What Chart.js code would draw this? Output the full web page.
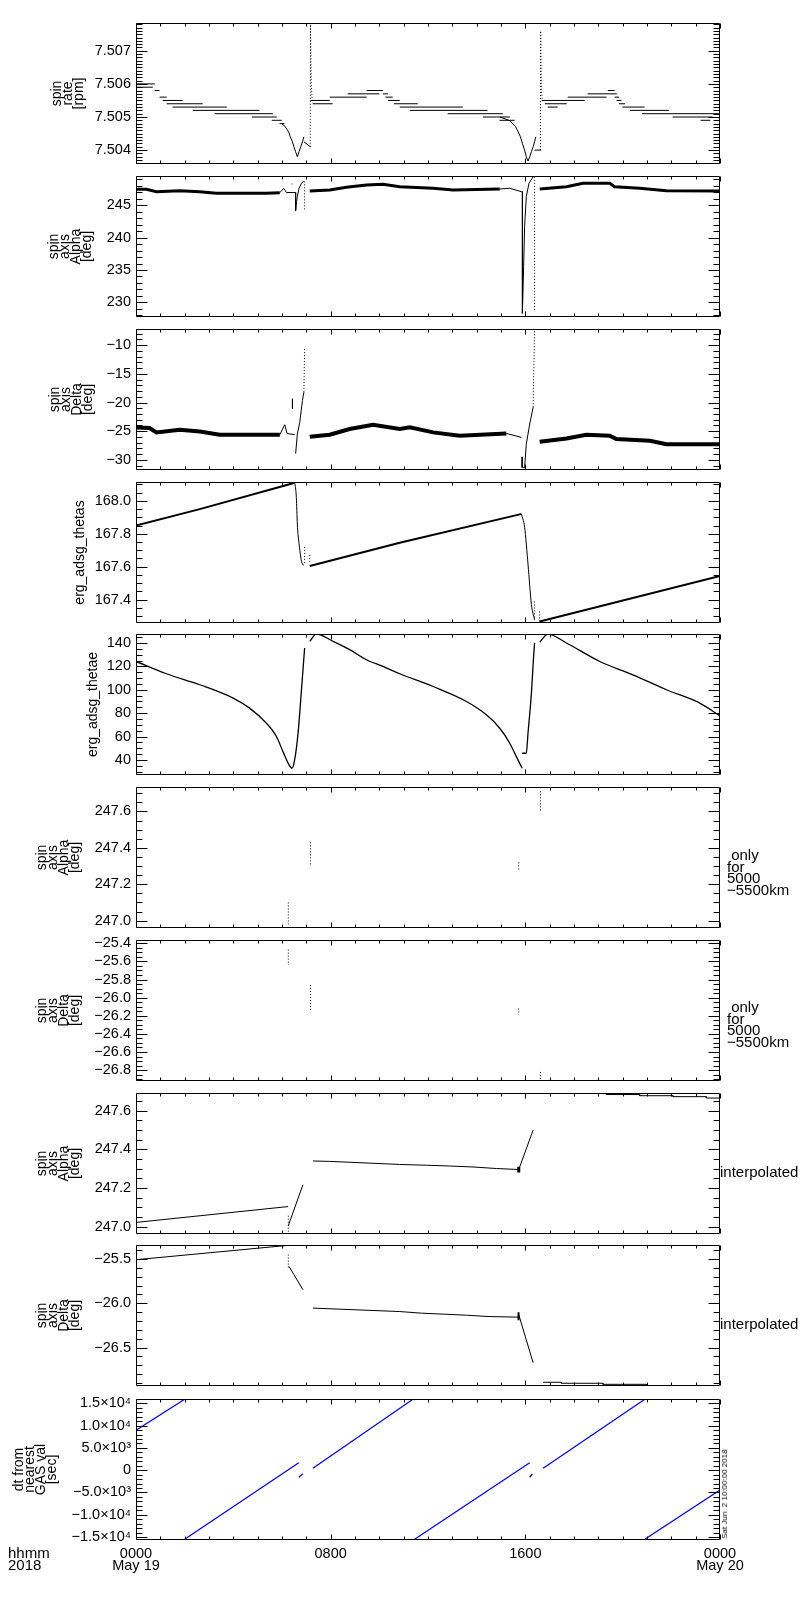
<!DOCTYPE html>
<html>
<head>
<meta charset="utf-8">
<script src="https://cdn.jsdelivr.net/npm/chart.js@4.4.0/dist/chart.umd.min.js"></script>
<style>
body { margin: 0; background: #fff; }
#page { position: relative; width: 800px; height: 1600px; font-family: "Liberation Sans", Arial, sans-serif; color: #000; }
.pan { position: absolute; left: 0; }
.note { position: absolute; font-size: 15px; line-height: 11.5px; white-space: pre; }
#stamp { position: absolute; left: 725px; top: 1494px; font-size: 8px; line-height: 8px; white-space: pre;
         transform: translate(-50%, -50%) rotate(-90deg); }
</style>
</head>
<body>
<div id="page">
  <div class="note" style="left:8px; top:1547px;">hhmm
2018</div>
  <div class="note" style="left:727px; top:849px;"> only
for
5000
−5500km</div>
  <div class="note" style="left:727px; top:1001px;"> only
for
5000
−5500km</div>
  <div class="note" style="left:720px; top:1166px;">interpolated</div>
  <div class="note" style="left:720px; top:1318px;">interpolated</div>
  <div id="stamp">Sat Jun  2 10:00:00 2018</div>
</div>
<script>
// x axis: hours of the day
const hours = [0, 8, 16, 24];
const hourLabels = [['0000', 'May 19'], '0800', '1600', ['0000', 'May 20']];

// y tick values of each panel
const rateTicks = [7.504, 7.505, 7.506, 7.507];
const alphaTicks = [230, 235, 240, 245];
const deltaTicks = [-30, -25, -20, -15, -10];
const thetasTicks = [167.4, 167.6, 167.8, 168.0];
const thetaeTicks = [40, 60, 80, 100, 120, 140];
const alphaOnlyTicks = [247.0, 247.2, 247.4, 247.6];
const deltaOnlyTicks = [-26.8, -26.6, -26.4, -26.2, -26.0, -25.8, -25.6, -25.4];
const alphaIntTicks = [247.0, 247.2, 247.4, 247.6];
const deltaIntTicks = [-26.5, -26.0, -25.5];
const dtTicks = [-15000, -10000, -5000, 0, 5000, 10000, 15000];

// spin rate, quantised steps: [start h, end h, rpm]
const rateSteps = [
  [0.00, 0.77, 7.5060], [0.00, 0.69, 7.5059], [0.77, 0.97, 7.5058], [0.97, 1.26, 7.5056],
  [1.10, 1.92, 7.5055], [1.26, 2.74, 7.5054], [1.50, 3.73, 7.5053], [2.33, 5.08, 7.5052],
  [3.23, 5.62, 7.5051], [4.76, 5.78, 7.5050], [5.58, 5.99, 7.5049], [5.90, 6.10, 7.5048],
  [7.17, 7.96, 7.5055], [7.26, 8.08, 7.5054], [7.96, 9.48, 7.5056], [8.70, 10.00, 7.5057],
  [9.48, 10.14, 7.5058], [10.14, 10.35, 7.5057], [10.25, 10.55, 7.5056], [10.35, 10.84, 7.5055],
  [10.60, 11.58, 7.5054], [10.84, 13.43, 7.5053], [11.25, 14.45, 7.5052], [12.81, 15.07, 7.5051],
  [14.25, 15.36, 7.5050], [14.94, 15.56, 7.5049],
  [16.67, 18.44, 7.5055], [16.80, 17.70, 7.5054], [16.92, 17.33, 7.5053], [17.74, 19.34, 7.5056],
  [18.56, 19.76, 7.5057], [19.39, 19.67, 7.5058], [19.67, 19.85, 7.5056], [19.75, 19.95, 7.5055],
  [19.85, 20.10, 7.5054], [19.99, 20.90, 7.5053], [20.30, 21.90, 7.5052], [20.80, 24.00, 7.5051],
  [22.05, 23.70, 7.5050], [23.20, 23.60, 7.5049]
];
const rateDip1 = [[5.97, 7.50481], [6.11, 7.50473], [6.21, 7.50462], [6.29, 7.50452], [6.34, 7.5044],
  [6.43, 7.50425], [6.49, 7.5041], [6.56, 7.50395], [6.63, 7.5038], [6.70, 7.50395], [6.77, 7.5041],
  [6.84, 7.50425], [6.90, 7.5044]];
const rateTail1 = [[6.90, 7.50425], [7.17, 7.5041]];
const rateSpike1 = [[7.16, 7.5041], [7.17, 7.5078], [7.20, 7.5060], [7.24, 7.5055]];
const rateDip2 = [[14.96, 7.5050], [15.36, 7.50489], [15.49, 7.50479], [15.60, 7.50471], [15.70, 7.50456],
  [15.80, 7.5044], [15.88, 7.5042], [15.97, 7.5040], [16.04, 7.5038], [16.11, 7.50367], [16.18, 7.5038],
  [16.25, 7.50395], [16.32, 7.5041], [16.38, 7.50425], [16.43, 7.5044]];
const rateTail2 = [[16.38, 7.5040], [16.65, 7.5040]];
const rateSpike2 = [[16.62, 7.5040], [16.63, 7.5076], [16.66, 7.5058], [16.70, 7.5055]];

// spin axis alpha [deg]
const alphaA = [[0, 247.47], [0.43, 247.47], [0.84, 247.10], [1.80, 247.26], [2.62, 247.10], [3.30, 246.85],
  [5.36, 246.85], [5.91, 246.95]];
const alphaBump1 = [[5.91, 246.95], [6.07, 247.63], [6.18, 246.98], [6.56, 246.98]];
const alphaHook1 = [[6.56, 246.98], [6.56, 244.17], [6.60, 245.6], [6.63, 246.33], [6.70, 247.63], [6.80, 248.4], [6.89, 248.76]];
const alphaDots1 = [[6.93, 248.7], [6.93, 244.2]];
const alphaSpeck = [[6.40, 248.3], [6.43, 248.3]];
const alphaB = [[7.14, 247.21], [7.96, 247.36], [8.65, 247.78], [9.47, 248.14], [10.15, 248.25], [10.84, 247.88],
  [12.21, 247.63], [13.03, 247.36], [14.95, 247.52]];
const alphaBump2 = [[14.95, 247.52], [15.36, 247.63], [15.84, 247.10], [15.88, 247.10]];
const alphaHook2 = [[15.88, 247.10], [15.88, 228.3], [15.93, 235.5], [15.97, 241.7], [16.04, 246.33], [16.15, 248.4], [16.32, 249.4]];
const alphaDots2 = [[16.38, 249.4], [16.38, 228.5]];
const alphaC = [[16.59, 247.52], [17.69, 247.88], [18.37, 248.4], [19.47, 248.4], [19.67, 247.88], [20.70, 247.63],
  [21.80, 247.26], [24, 247.21]];

// spin axis delta [deg]
const deltaA = [[0, -24.33], [0.55, -24.44], [0.84, -25.2], [1.80, -24.74], [2.62, -25.03], [3.44, -25.61], [5.91, -25.61]];
const deltaBump1 = [[5.91, -25.61], [6.11, -23.86], [6.21, -25.38], [6.52, -25.61]];
const deltaHook1 = [[6.56, -28.89], [6.63, -25.5], [6.73, -23.45], [6.84, -19.65], [6.90, -18.19]];
const deltaDots1 = [[6.90, -18.19], [6.93, -10.58]];
const deltaDash1 = [[6.43, -19.35], [6.43, -21.1]];
const deltaB = [[7.14, -25.96], [7.96, -25.61], [8.78, -24.61], [9.74, -23.86], [10.84, -24.61], [11.25, -24.33],
  [12.21, -25.2], [13.30, -25.79], [15.22, -25.38]];
const deltaBump2 = [[15.22, -25.38], [15.84, -26.08]];
const deltaHook2 = [[15.90, -31.35], [15.97, -31.35], [16.04, -27.25], [16.18, -23.74], [16.32, -20.82]];
const deltaDots2 = [[16.32, -20.82], [16.38, -7.37]];
const deltaDash2 = [[15.87, -29.47], [15.87, -31.35]];
const deltaC = [[16.59, -26.84], [17.69, -26.25], [18.51, -25.61], [19.47, -25.79], [19.74, -26.37], [21.12, -26.67],
  [21.80, -27.25], [24, -27.25]];

// erg_adsg_thetas
const thetasA = [[0, 167.85], [2.62, 167.95], [6.45, 168.107], [6.52, 168.117]];
const thetasDrop1 = [[6.52, 168.117], [6.59, 168.02], [6.63, 167.86], [6.70, 167.74], [6.84, 167.615], [6.90, 167.61]];
const thetasDots1 = [[6.93, 167.72], [6.93, 167.615], [7.14, 167.67], [7.14, 167.615]];
const thetasB = [[7.14, 167.604], [10.84, 167.745], [15.77, 167.918], [15.84, 167.92]];
const thetasDrop2 = [[15.84, 167.92], [15.97, 167.84], [16.11, 167.615], [16.25, 167.37], [16.38, 167.276]];
const thetasDots2 = [[16.38, 167.388], [16.38, 167.276], [16.59, 167.327], [16.59, 167.266]];
const thetasC = [[16.59, 167.266], [24, 167.543]];

// erg_adsg_thetae
const thetaeA = [[0, 124.2], [1.25, 113.7], [2.62, 104.3], [3.99, 92.9], [4.67, 84.3], [5.36, 71.4], [5.77, 60.0],
  [6.04, 47.1], [6.29, 35.7], [6.41, 32.9], [6.52, 40.0], [6.66, 62.9], [6.80, 100], [6.93, 135.7]];
const thetaeB = [[7.14, 141.4], [7.41, 147.7], [8.10, 141.4], [8.78, 134.3], [9.47, 125.7], [10.15, 120], [10.84, 113.7],
  [12.21, 102.8], [13.58, 90], [14.40, 78.6], [14.95, 67.1], [15.36, 54.3], [15.63, 42.8], [15.87, 32.9]];
const thetaeRise = [[15.87, 45.7], [16.04, 45.7], [16.11, 62.9], [16.25, 97.1], [16.34, 128.6], [16.38, 140]];
const thetaeC = [[16.59, 140.6], [16.93, 147.7], [17.69, 140], [19.06, 124.2], [20.42, 112.8], [21.80, 100],
  [23.17, 88.6], [24, 77.7]];

// alpha / delta only for 5000-5500 km: [h, from, to]
const alphaOnly = [[6.26, 247.10, 246.98], [7.17, 247.43, 247.30], [15.73, 247.32, 247.27], [16.62, 247.71, 247.60]];
const deltaOnly = [[6.26, -25.47, -25.64], [7.17, -25.86, -26.14], [15.73, -26.12, -26.19], [16.62, -26.82, -26.91]];

// interpolated alpha
const alphaIntA = [[0, 247.022], [6.25, 247.104]];
const alphaIntDots = [[6.26, 247.057], [6.26, 246.97]];
const alphaIntB = [[6.26, 247.005], [6.86, 247.217]];
const alphaIntC = [[7.27, 247.340], [7.96, 247.338], [10.84, 247.322], [11.93, 247.318], [12.89, 247.314],
  [13.85, 247.309], [14.81, 247.301], [15.70, 247.296]];
const alphaIntBlob = [[15.73, 247.31], [15.73, 247.28]];
const alphaIntD = [[15.73, 247.296], [16.32, 247.5]];
const alphaIntE = [[17.96, 247.690], [19.33, 247.690], [19.33, 247.684], [20.70, 247.684], [20.70, 247.678],
  [22.07, 247.678], [22.07, 247.673], [23.44, 247.673], [23.44, 247.666], [24, 247.666]];

// interpolated delta
const deltaIntA = [[0, -25.508], [6.25, -25.346]];
const deltaIntDots = [[6.26, -25.45], [6.26, -25.60]];
const deltaIntB = [[6.29, -25.584], [6.86, -25.847]];
const deltaIntC = [[7.27, -26.054], [10.84, -26.093], [11.73, -26.111], [12.62, -26.122], [13.58, -26.134],
  [14.47, -26.149], [15.70, -26.156]];
const deltaIntBits = [[15.72, -26.10], [15.72, -26.19]];
const deltaIntD = [[15.72, -26.12], [16.32, -26.67]];
const deltaIntE = [[16.73, -26.891], [17.48, -26.891], [17.48, -26.902], [19.19, -26.902], [19.19, -26.914],
  [20.98, -26.914], [20.98, -26.929], [22.75, -26.929]];

// dt from nearest GAS val [sec]
const dtRamps = [
  [[0, 8964], [2.0, 15900]],
  [[2.0, -15520], [6.69, 1660]],
  [[6.69, -1590], [6.86, -825]],
  [[7.27, 440], [11.38, 15900]],
  [[11.45, -15520], [16.18, 1660]],
  [[16.18, -1590], [16.29, -825]],
  [[16.73, 440], [20.91, 15900]],
  [[20.91, -15520], [24, -4440]]
];

const FONT = '"Liberation Sans", Arial, sans-serif';
const BLUE = '#0000ff';
const DOT = [1, 2];

const line = (pts, w, color, dash) => ({
  data: pts.map(p => ({ x: p[0], y: p[1] })),
  showLine: true, pointRadius: 0, tension: 0, spanGaps: false,
  borderColor: color || '#000', borderWidth: w, borderDash: dash || []
});
// same, but smoothed through the read points (the orbit angle curves)
const curve = (pts, w) => Object.assign(line(pts, w), { cubicInterpolationMode: 'monotone' });
const steps = (segs, w) => {
  const pts = [];
  segs.forEach(s => pts.push([s[0], s[2]], [s[1], s[2]], [s[1], null]));
  return line(pts, w);
};
const bars = (list, w, dash) => {
  const pts = [];
  list.forEach(s => pts.push([s[0], s[1]], [s[0], s[2]], [s[0], null]));
  return line(pts, w, null, dash);
};
const pairs = (pts, w, dash) => {
  const out = [];
  for (let i = 0; i < pts.length; i += 2) out.push(pts[i], pts[i + 1], [pts[i + 1][0], null]);
  return line(out, w, null, dash);
};

const fixed = d => v => v.toFixed(d).replace('-', '\u2212');
const sup = { 3: '\u00b3', 4: '\u2074' };
const sci = v => {
  v = Math.round(v);
  if (v === 0) return '0';
  const a = Math.abs(v), e = Math.floor(Math.log10(a) + 1e-9);
  return (v < 0 ? '\u2212' : '') + (a / Math.pow(10, e)).toFixed(1) + '\u00d710' + (sup[e] || '');
};

const panels = [
  { top: 23, min: 7.50358, max: 7.50784, ticks: rateTicks, sub: 10, fmt: fixed(3), title: ['spin', 'rate', '[rpm]'], tx: 57,
    sets: [steps(rateSteps, 1), line(rateDip1, 1), line(rateTail1, 1), line(rateSpike1, 1, null, DOT),
           line(rateDip2, 1), line(rateTail2, 1), line(rateSpike2, 1, null, DOT)] },
  { top: 176, min: 227.73, max: 249.53, ticks: alphaTicks, sub: 5, fmt: fixed(0), title: ['spin', 'axis', 'Alpha', '[deg]'], tx: 54,
    sets: [line(alphaA, 3), line(alphaBump1, 1), line(alphaHook1, 1), line(alphaDots1, 1, null, DOT), line(alphaSpeck, 1),
           line(alphaB, 3), line(alphaBump2, 1), line(alphaHook2, 1), line(alphaDots2, 1, null, DOT), line(alphaC, 3)] },
  { top: 329, min: -31.75, max: -7.2, ticks: deltaTicks, sub: 5, fmt: fixed(0), title: ['spin', 'axis', 'Delta', '[deg]'], tx: 55,
    sets: [line(deltaA, 4), line(deltaBump1, 1), line(deltaHook1, 1), line(deltaDots1, 1, null, DOT), line(deltaDash1, 1),
           line(deltaB, 4), line(deltaBump2, 1), line(deltaHook2, 1), line(deltaDots2, 1, null, DOT), line(deltaDash2, 1),
           line(deltaC, 4)] },
  { top: 482, min: 167.257, max: 168.115, ticks: thetasTicks, sub: 4, fmt: fixed(1), title: ['erg_adsg_thetas'], tx: 80,
    sets: [line(thetasA, 2), curve(thetasDrop1, 1), pairs(thetasDots1, 1, DOT), line(thetasB, 2),
           curve(thetasDrop2, 1), pairs(thetasDots2, 1, DOT), line(thetasC, 2)] },
  { top: 634, min: 27.1, max: 147.7, ticks: thetaeTicks, sub: 4, fmt: fixed(0), title: ['erg_adsg_thetae'], tx: 93,
    sets: [curve(thetaeA, 1.3), curve(thetaeB, 1.3), curve(thetaeRise, 1.3), curve(thetaeC, 1.3)] },
  { top: 787, min: 246.96, max: 247.734, ticks: alphaOnlyTicks, sub: 4, fmt: fixed(1), title: ['spin', 'axis', 'Alpha', '[deg]'], tx: 42,
    sets: [bars(alphaOnly, 1, DOT)] },
  { top: 940, min: -26.92, max: -25.364, ticks: deltaOnlyTicks, sub: 4, fmt: fixed(1), title: ['spin', 'axis', 'Delta', '[deg]'], tx: 42,
    sets: [bars(deltaOnly, 1, DOT)] },
  { top: 1093, min: 246.962, max: 247.692, ticks: alphaIntTicks, sub: 4, fmt: fixed(1), title: ['spin', 'axis', 'Alpha', '[deg]'], tx: 42,
    sets: [line(alphaIntA, 1), line(alphaIntDots, 1, null, DOT), line(alphaIntB, 1), line(alphaIntC, 1),
           line(alphaIntBlob, 3), line(alphaIntD, 1), line(alphaIntE, 1)] },
  { top: 1245, min: -26.933, max: -25.342, ticks: deltaIntTicks, sub: 5, fmt: fixed(1), title: ['spin', 'axis', 'Delta', '[deg]'], tx: 42,
    sets: [line(deltaIntA, 1), line(deltaIntDots, 1, null, DOT), line(deltaIntB, 1), line(deltaIntC, 1),
           line(deltaIntBits, 2), line(deltaIntD, 1), line(deltaIntE, 1)] },
  { top: 1399, min: -15678, max: 15972, ticks: dtTicks, sub: 5, fmt: sci, title: ['dt from', 'nearest', 'GAS val', '[sec]'], tx: 19,
    sets: dtRamps.map(r => line(r, 1.3, BLUE)) }
];

const H = 141, PAD = 6, XAXIS = 44;

// box plus inward ticks on all four sides, like the original plot
const frame = {
  id: 'frame',
  afterDraw(chart) {
    const { ctx, chartArea: a, scales: { x, y } } = chart;
    const o = chart.options.plugins.frame;
    const L = Math.round(a.left) + 0.5, R = Math.round(a.right) - 0.5;
    const Tp = Math.round(a.top) + 0.5, Bt = Math.round(a.bottom) - 0.5;
    ctx.save();
    ctx.strokeStyle = '#000';
    ctx.lineWidth = 1;
    ctx.beginPath();
    ctx.rect(L, Tp, R - L, Bt - Tp);
    const ms = (o.ticks[1] - o.ticks[0]) / o.sub;
    for (let k = Math.ceil(y.min / ms - 1e-6); k * ms <= y.max + 1e-9; k++) {
      const py = Math.round(y.getPixelForValue(k * ms)) + 0.5;
      const len = (k % o.sub === 0) ? 11 : 6;
      ctx.moveTo(L, py); ctx.lineTo(L + len, py);
      ctx.moveTo(R, py); ctx.lineTo(R - len, py);
    }
    for (let h = 0; h <= 24; h++) {
      const px = Math.round(x.getPixelForValue(h)) + 0.5;
      const len = (h % 8 === 0) ? 5 : 3;
      ctx.moveTo(px, Tp); ctx.lineTo(px, Tp + len);
      ctx.moveTo(px, Bt); ctx.lineTo(px, Bt - len);
    }
    ctx.stroke();
    ctx.restore();
  }
};

const page = document.getElementById('page');
panels.forEach((p, i) => {
  const last = i === panels.length - 1;
  const cv = document.createElement('canvas');
  cv.className = 'pan';
  cv.width = 800;
  cv.height = PAD + H + (last ? XAXIS : PAD);
  cv.style.top = (p.top - PAD) + 'px';
  page.insertBefore(cv, page.firstChild);

  new Chart(cv, {
    type: 'scatter',
    data: { datasets: p.sets },
    options: {
      responsive: false,
      animation: false,
      events: [],
      layout: { padding: { top: PAD, right: 80, bottom: last ? 0 : PAD, left: 0 } },
      plugins: {
        legend: { display: false },
        tooltip: { enabled: false },
        frame: { ticks: p.ticks, sub: p.sub }
      },
      scales: {
        x: {
          type: 'linear', min: 0, max: 24, display: last, bounds: 'data',
          grid: { display: false, drawTicks: false },
          border: { display: false },
          ticks: {
            autoSkip: false, maxRotation: 0, padding: 8, color: '#000',
            font: { family: FONT, size: 14.5, lineHeight: '12px' },
            callback: v => { const k = hours.indexOf(v); return k >= 0 ? hourLabels[k] : ''; }
          },
          afterBuildTicks: s => { s.ticks = hours.map(v => ({ value: v })); },
          afterFit: s => { s.height = last ? XAXIS : 0; s.paddingLeft = 0; s.paddingRight = 0; }
        },
        y: {
          type: 'linear', min: p.min, max: p.max, bounds: 'data',
          grid: { display: false, drawTicks: false },
          border: { display: false },
          ticks: {
            autoSkip: false, padding: 5, color: '#000',
            font: { family: FONT, size: 14.5 },
            callback: p.fmt
          },
          afterBuildTicks: s => { s.ticks = p.ticks.map(v => ({ value: v })); },
          title: {
            display: true, text: p.title, color: '#000',
            font: { family: FONT, size: 14, lineHeight: '11px' },
            padding: { top: p.tx - 5.5, bottom: 0 }
          },
          afterFit: s => { s.width = 136; s.paddingTop = 0; s.paddingBottom = 0; }
        }
      }
    },
    plugins: [frame]
  });
});
</script>
</body>
</html>
